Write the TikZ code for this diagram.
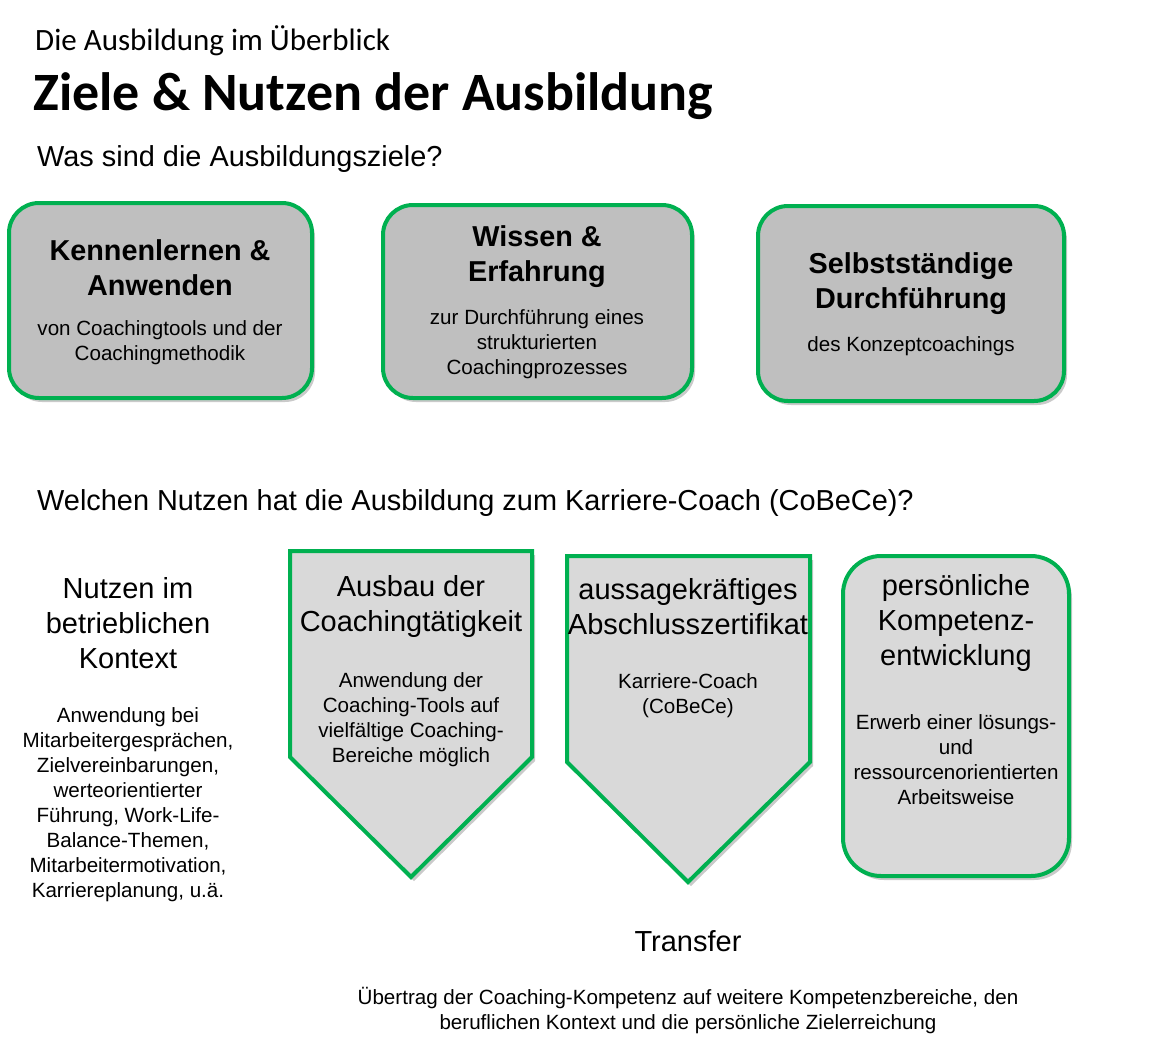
\documentclass[tikz,border=0pt]{standalone}
\usepackage{fontspec}
\setmainfont{Liberation Sans}
\newfontfamily\calibri{Carlito}
\usetikzlibrary{shadows}
\definecolor{cgreen}{HTML}{00B050}
\definecolor{gdark}{HTML}{BFBFBF}
\definecolor{glight}{HTML}{D9D9D9}
\tikzset{
  shad/.style={drop shadow={shadow xshift=3pt,shadow yshift=-4pt,opacity=0.35,fill=black!60}},
  goalbox/.style={draw=cgreen,line width=4pt,fill=gdark,rounded corners=30pt,shad},
  benefit/.style={draw=cgreen,line width=4pt,fill=glight,line join=miter,shad},
  big/.style={font=\fontsize{29}{35}\selectfont,align=center,inner sep=0pt},
  bigb/.style={font=\fontsize{28.8}{35}\selectfont\bfseries,align=center,inner sep=0pt},
  small/.style={font=\fontsize{20.6}{25}\selectfont,align=center,inner sep=0pt},
}
\begin{document}
\begin{tikzpicture}[x=1pt,y=-1pt]
\useasboundingbox (0,0) rectangle (1149,1050);
% header
\node[anchor=base west,inner sep=0pt,font=\calibri\fontsize{31}{36}\selectfont] (sup) at (35,50) {Die Ausbildung im Überblick};
\node[anchor=base west,inner sep=0pt,font=\calibri\bfseries\fontsize{54}{62}\selectfont] (title) at (33,110) {Ziele \& Nutzen der Ausbildung};
\node[anchor=base west,inner sep=0pt,font=\fontsize{28.9}{34}\selectfont] (q1) at (37,166) {Was sind die Ausbildungsziele?};
% goals
\path[goalbox] (9,203) rectangle (312,398);
\path[goalbox] (383,205) rectangle (692,398);
\path[goalbox] (758,206) rectangle (1064,401);
\node[bigb] (g1t) at (160,267.5) {Kennenlernen \&\\Anwenden};
\node[small] (g1s) at (160,342.5) {von Coachingtools und der\\Coachingmethodik};
\node[bigb] (g2t) at (537,256.5) {Wissen \&\\Erfahrung};
\node[small] (g2s) at (537,344) {zur Durchführung eines\\strukturierten\\Coachingprozesses};
\node[bigb] (g3t) at (911,283.5) {Selbstständige\\Durchführung};
\node[small] (g3s) at (911,346) {des Konzeptcoachings};
% question 2
\node[anchor=base west,inner sep=0pt,font=\fontsize{28.9}{34}\selectfont] (q2) at (37,510) {Welchen Nutzen hat die Ausbildung zum Karriere-Coach (CoBeCe)?};
% left column
\node[big] (l1t) at (128,623) {Nutzen im\\betrieblichen\\Kontext};
\node[small] (l1s) at (128,805) {Anwendung bei\\Mitarbeitergesprächen,\\Zielvereinbarungen,\\werteorientierter\\Führung, Work-Life-\\Balance-Themen,\\Mitarbeitermotivation,\\Karriereplanung, u.ä.};
% pentagons
\path[benefit] (290,551) -- (532,551) -- (532,757) -- (411,877) -- (290,757) -- cycle;
\path[benefit] (567,556) -- (810,556) -- (810,762) -- (688,882) -- (567,762) -- cycle;
\node[big] (p1t) at (411,606.5) {Ausbau der\\Coachingtätigkeit};
\node[small] (p1s) at (411,719.5) {Anwendung der\\Coaching-Tools auf\\vielfältige Coaching-\\Bereiche möglich};
\node[big] (p2t) at (688,606.5) {aussagekräftiges\\Abschlusszertifikat};
\node[small] (p2s) at (688,695.5) {Karriere-Coach\\(CoBeCe)};
% rounded
\path[benefit,rounded corners=38pt,line join=round] (843,556) rectangle (1069,876);
\node[big] (r1t) at (956,623) {persönliche\\Kompetenz-\\entwicklung};
\node[small] (r1s) at (956,759.5) {Erwerb einer lösungs-\\und\\ressourcenorientierten\\Arbeitsweise};
% transfer
\node[big] (tt) at (688,941) {Transfer};
\node[small] (ts) at (688,1010.5) {Übertrag der Coaching-Kompetenz auf weitere Kompetenzbereiche, den\\beruflichen Kontext und die persönliche Zielerreichung};
\end{tikzpicture}
\end{document}
